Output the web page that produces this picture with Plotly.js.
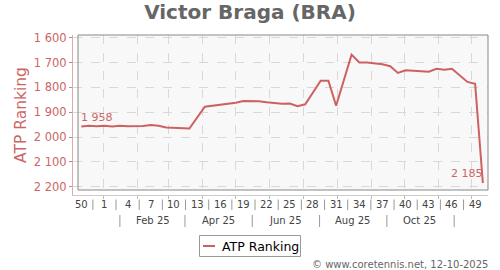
<!DOCTYPE html>
<html>
<head>
<meta charset="utf-8">
<script src="https://cdn.plot.ly/plotly-3.0.1.min.js"></script>
<style>html,body{margin:0;padding:0;background:#fff;}#chart{width:500px;height:270px;}</style>
</head>
<body>
<div id="chart"></div>
<script>
// ---- data ----
// Week dates (mid-week of each ranking week) and ATP ranking values
var dates = [
  '2024-12-12','2024-12-19','2024-12-26','2025-01-02','2025-01-09','2025-01-16',
  '2025-01-23','2025-01-30','2025-02-06','2025-02-13','2025-02-20','2025-02-27',
  '2025-03-06','2025-03-13','2025-03-20','2025-04-03','2025-04-10',
  '2025-04-17','2025-04-24','2025-05-01','2025-05-08','2025-05-15','2025-05-22',
  '2025-05-29','2025-06-05','2025-06-12','2025-06-19','2025-06-26','2025-07-03',
  '2025-07-17','2025-07-24','2025-07-31','2025-08-14','2025-08-21',
  '2025-08-28','2025-09-04','2025-09-11','2025-09-18','2025-09-25','2025-10-02',
  '2025-10-09','2025-10-16','2025-10-23','2025-10-30','2025-11-06','2025-11-13',
  '2025-11-20','2025-11-27','2025-12-04','2025-12-11'
];
var ranking = [
  1958,1955,1957,1955,1958,1955,
  1957,1958,1956,1952,1955,1962,
  1964,1965,1966,1878,1874,
  1872,1868,1862,1855,1854,1856,
  1860,1864,1866,1865,1876,1868,
  1773,1773,1874,1668,1700,
  1700,1702,1707,1715,1742,1731,
  1733,1734,1737,1725,1729,1725,
  1750,1778,1786,2185
];
var weekLabels = ['50','1','4','7','10','13','16','19','22','25','28','31','34','37','40','43','46','49'];
var weekLabelDates = ['2024-12-12','2025-01-02','2025-01-23','2025-02-13','2025-03-06','2025-03-27',
  '2025-04-17','2025-05-08','2025-05-29','2025-06-19','2025-07-10','2025-07-31','2025-08-21',
  '2025-09-11','2025-10-02','2025-10-23','2025-11-13','2025-12-04'];
var monthLabels = ['Feb 25','Apr 25','Jun 25','Aug 25','Oct 25'];
var monthLabelDates = ['2025-02-15','2025-04-15','2025-06-15','2025-08-15','2025-10-15'];
var monthSepDates = ['2025-01-16','2025-03-16','2025-05-16','2025-07-16','2025-09-15','2025-11-15'];
var yTickVals = [1600,1700,1800,1900,2000,2100,2200];
var yTickText = ['1 600','1 700','1 800','1 900','2 000','2 100','2 200'];
var firstLabel = '1 958', lastLabel = '2 185';
var seriesName = 'ATP Ranking';

// ---- styles ----
var RED = '#cc6666';
var LINE = '#cd6161';
var plotL = 73, plotR = 488, plotT = 35, plotB = 195, W = 500, H = 270;
var pw = plotR - plotL, ph = plotB - plotT;
function px2x(p){ return (p - plotL) / pw; }
function py2y(p){ return (plotB - p) / ph; }

function addDays(s, d){ var t = new Date(s + 'T00:00:00Z'); t.setUTCDate(t.getUTCDate() + d); return t.toISOString().slice(0,10); }

var shapes = [];
// plot frame with background (inner area)
shapes.push({type:'rect', xref:'paper', yref:'paper', x0:px2x(78), x1:1, y0:py2y(190), y1:1,
  fillcolor:'#f8f8f8', line:{width:0}, layer:'below'});
shapes.push({type:'rect', xref:'paper', yref:'paper', x0:px2x(78), x1:1, y0:py2y(190), y1:1,
  fillcolor:'rgba(0,0,0,0)', line:{color:'#888888', width:1}, layer:'above'});
// week separators (midpoints between week labels)
for (var i = 0; i < weekLabelDates.length - 1; i++) {
  var xm = addDays(weekLabelDates[i], 10) + ' 12:00';
  shapes.push({type:'line', xref:'x', yref:'paper', x0:xm, x1:xm, y0:py2y(199.5), y1:py2y(210),
    line:{color:'#999999', width:1}});
}
monthSepDates.forEach(function(d){
  shapes.push({type:'line', xref:'x', yref:'paper', x0:d, x1:d, y0:py2y(215), y1:py2y(227),
    line:{color:'#999999', width:1}});
});
// legend box
shapes.push({type:'rect', xref:'paper', yref:'paper', x0:px2x(199.5), x1:px2x(300.5), y0:py2y(256.5), y1:py2y(235.5),
  fillcolor:'#ffffff', line:{color:'#999999', width:1}});
shapes.push({type:'line', xref:'paper', yref:'paper', x0:px2x(203), x1:px2x(215), y0:py2y(246), y1:py2y(246),
  line:{color:LINE, width:2}});

var annotations = [];
weekLabels.forEach(function(t, i){
  annotations.push({xref:'x', yref:'paper', x:weekLabelDates[i], y:py2y(204.5), text:t, showarrow:false,
    xanchor:'center', yanchor:'middle', font:{family:'DejaVu Sans', size:10, color:'#444444'}});
});
monthLabels.forEach(function(t, i){
  annotations.push({xref:'x', yref:'paper', x:monthLabelDates[i], y:py2y(220.5), text:t, showarrow:false,
    xanchor:'center', yanchor:'middle', font:{family:'DejaVu Sans', size:10, color:'#444444'}});
});
annotations.push({xref:'x', yref:'y', x:dates[0], y:ranking[0], text:firstLabel, showarrow:false,
  xanchor:'left', yanchor:'bottom', xshift:-2, yshift:1, font:{family:'DejaVu Sans', size:11, color:RED}});
annotations.push({xref:'x', yref:'y', x:dates[dates.length-1], y:ranking[ranking.length-1], text:lastLabel, showarrow:false,
  xanchor:'right', yanchor:'bottom', xshift:2, yshift:1, font:{family:'DejaVu Sans', size:11, color:RED}});
annotations.push({xref:'paper', yref:'paper', x:px2x(220), y:py2y(246), text:seriesName, showarrow:false,
  xanchor:'left', yanchor:'middle', font:{family:'DejaVu Sans', size:12.5, color:'#000000'}});
annotations.push({xref:'paper', yref:'paper', x:px2x(490), y:py2y(264), text:'© www.coretennis.net, 12-10-2025',
  showarrow:false, xanchor:'right', yanchor:'middle', font:{family:'DejaVu Sans', size:10, color:'#666666'}});

var trace = {
  x: dates, y: ranking, type:'scatter', mode:'lines', name:seriesName,
  line:{color:LINE, width:2}, hoverinfo:'skip', showlegend:false
};

var layout = {
  width:W, height:H,
  margin:{l:plotL, r:W-plotR, t:plotT, b:H-plotB, pad:0, autoexpand:false},
  paper_bgcolor:'#ffffff', plot_bgcolor:'#ffffff',
  font:{family:'DejaVu Sans'},
  title:{text:'<b>Victor Braga (BRA)</b>', x:0.5, xanchor:'center', xref:'container', y:0.955, yref:'container', yanchor:'middle',
    font:{family:'DejaVu Sans', size:20, color:'#666666'}},
  xaxis:{type:'date', range:['2024-12-04 12:00','2025-12-15 16:00'], tick0:'2025-01-01', dtick:'M1',
    showticklabels:false, ticks:'outside', ticklen:3, tickcolor:'#bbbbbb',
    showline:true, linecolor:'#cccccc', linewidth:1, automargin:false,
    showgrid:true, gridcolor:'#d8d8d8', griddash:'dash', gridwidth:1, zeroline:false, fixedrange:true},
  yaxis:{range:[2233.4,1589.1], tickvals:yTickVals, ticktext:yTickText,
    ticks:'outside', ticklen:3, tickcolor:'#999999',
    showline:true, linecolor:'#e0a8a8', linewidth:1,
    tickfont:{family:'DejaVu Sans', size:11.5, color:RED},
    showgrid:true, gridcolor:'#d8d8d8', griddash:'dash', gridwidth:1, zeroline:false,
    title:{text:'ATP Ranking', font:{family:'DejaVu Sans', size:15.5, color:RED}, standoff:3},
    automargin:false, fixedrange:true},
  showlegend:false,
  shapes:shapes, annotations:annotations
};

Plotly.newPlot('chart', [trace], layout, {staticPlot:true, displayModeBar:false});
</script>
</body>
</html>
